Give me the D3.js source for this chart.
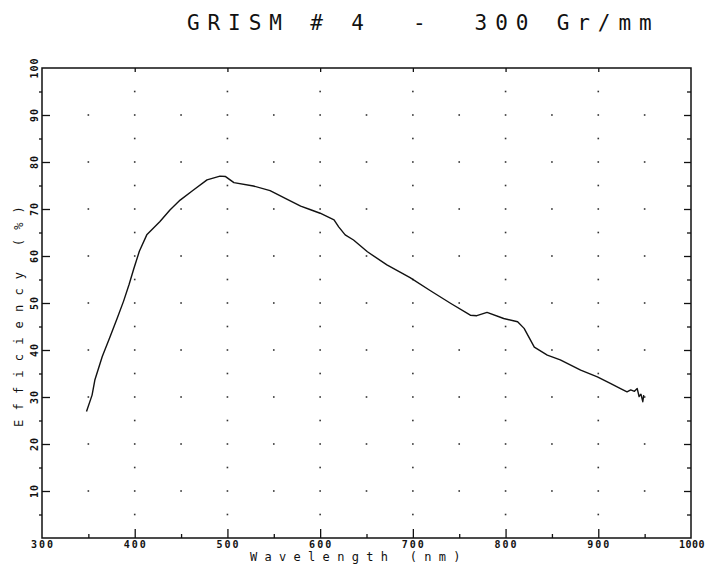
<!DOCTYPE html>
<html><head><meta charset="utf-8">
<script src="https://cdn.jsdelivr.net/npm/d3@7"></script>
<style>
html,body{margin:0;padding:0;background:#fff;}
svg{display:block;}
text{font-family:"DejaVu Sans Mono","Liberation Mono",monospace;fill:#111;white-space:pre;}
</style></head>
<body>
<svg id="chart" width="706" height="567"></svg>
<script>
// ---- data ----
const titleText = "GRISM # 4  -  300 Gr/mm";
const xTitle = "Wavelength (nm)";
const yTitle = "Efficiency (%)";
const xTicks = [300, 400, 500, 600, 700, 800, 900, 1000];
const yTicks = [10, 20, 30, 40, 50, 60, 70, 80, 90, 100];
const wavelength = [348, 354, 357, 365, 373, 381, 388, 394, 399, 405, 413, 427, 438, 449, 463, 478, 492, 498, 507, 528, 546, 564, 579, 589, 600, 615, 620, 627, 636, 651, 672, 697, 719, 741, 762, 769, 780, 798, 813, 820, 831, 845, 859, 881, 899, 913, 924, 931, 935, 939, 942, 944, 946, 948, 949];
const efficiency = [26.9, 30.4, 33.6, 38.6, 42.6, 46.7, 50.4, 54.0, 57.3, 61.0, 64.5, 67.3, 69.8, 71.9, 74.0, 76.2, 77.0, 76.9, 75.6, 74.9, 73.9, 72.1, 70.6, 69.9, 69.1, 67.7, 66.2, 64.5, 63.4, 60.9, 58.1, 55.4, 52.6, 49.9, 47.4, 47.3, 48.0, 46.7, 46.0, 44.6, 40.6, 38.9, 37.9, 35.7, 34.3, 32.9, 31.8, 31.1, 31.5, 31.2, 31.8, 30.1, 30.6, 29.0, 30.4];

// ---- layout ----
const L = 42, R = 691, T = 68, B = 538;
const svg = d3.select("#chart");
const x = d3.scaleLinear().domain([300, 1000]).range([L, R]);
const y = d3.scaleLinear().domain([0, 100]).range([B, T]);

// dot grid
const dots = [];
for (let w = 350; w <= 950; w += 50) {
  const step = (w % 100 === 0) ? 5 : 10;
  for (let e = step; e < 100; e += step) dots.push([w, e]);
}
svg.append("g").selectAll("rect").data(dots).join("rect")
  .attr("x", d => x(d[0]) - 0.8).attr("y", d => y(d[1]) - 0.8)
  .attr("width", 1.6).attr("height", 1.6).attr("fill", "#333");

// axes
const minorX = d3.range(350, 1000, 100);
const minorY = d3.range(5, 100, 10);
function styleTicks(g) {
  g.select(".domain").remove();
  g.selectAll("line").attr("stroke", "#111").attr("stroke-width", 1.3);
}
// bottom
svg.append("g").attr("transform", `translate(0,${B})`)
  .call(d3.axisTop(x).tickValues(xTicks.filter(v => v > 300 && v < 1000)).tickSize(9).tickFormat(""))
  .call(styleTicks);
svg.append("g").attr("transform", `translate(0,${B})`)
  .call(d3.axisTop(x).tickValues(minorX).tickSize(4).tickFormat(""))
  .call(styleTicks);
// left
svg.append("g").attr("transform", `translate(${L},0)`)
  .call(d3.axisRight(y).tickValues(yTicks.filter(v => v < 100)).tickSize(8).tickFormat(""))
  .call(styleTicks);
svg.append("g").attr("transform", `translate(${L},0)`)
  .call(d3.axisLeft(y).tickValues(minorY).tickSize(3).tickFormat(""))
  .call(styleTicks);
// right
svg.append("g").attr("transform", `translate(${R},0)`)
  .call(d3.axisLeft(y).tickValues(yTicks.filter(v => v < 100)).tickSize(7).tickFormat(""))
  .call(styleTicks);
svg.append("g").attr("transform", `translate(${R},0)`)
  .call(d3.axisLeft(y).tickValues(minorY).tickSize(4).tickFormat(""))
  .call(styleTicks);
// top
svg.append("g").attr("transform", `translate(0,${T})`)
  .call(d3.axisBottom(x).tickValues(xTicks.filter(v => v > 300 && v < 1000)).tickSize(4).tickFormat(""))
  .call(styleTicks);

// frame
svg.append("rect").attr("x", L).attr("y", T).attr("width", R - L).attr("height", B - T)
  .attr("fill", "none").attr("stroke", "#111").attr("stroke-width", 1.5);

// tick labels
svg.append("g").selectAll("text").data(xTicks).join("text")
  .attr("x", d => d === 1000 ? 705 : x(d) + 1)
  .attr("y", 548)
  .attr("text-anchor", d => d === 1000 ? "end" : "middle")
  .attr("font-size", 10).attr("font-weight", "bold")
  .attr("letter-spacing", d => d === 1000 ? 0.5 : 2)
  .text(d => d);
svg.append("g").selectAll("text").data(yTicks).join("text")
  .attr("transform", d => `translate(38,${y(d)}) rotate(-90)`)
  .attr("text-anchor", "middle")
  .attr("font-size", 10).attr("font-weight", "bold").attr("letter-spacing", 1)
  .text(d => d);

// curve
const pts = wavelength.map((w, i) => [w, efficiency[i]]);
svg.append("path").datum(pts)
  .attr("fill", "none").attr("stroke", "#111").attr("stroke-width", 1.4)
  .attr("stroke-linejoin", "round")
  .attr("d", d3.line().x(d => x(d[0])).y(d => y(d[1])));

// titles
svg.append("text").attr("x", 187).attr("y", 30)
  .attr("font-size", 21).attr("letter-spacing", 7.9).text(titleText);
svg.append("text").attr("x", 250).attr("y", 561)
  .attr("font-size", 12).attr("letter-spacing", 7.3).text(xTitle);
svg.append("text").attr("transform", "translate(23,312) rotate(-90)")
  .attr("text-anchor", "middle")
  .attr("font-size", 12).attr("letter-spacing", 9.2).text(yTitle);
</script>
</body></html>
